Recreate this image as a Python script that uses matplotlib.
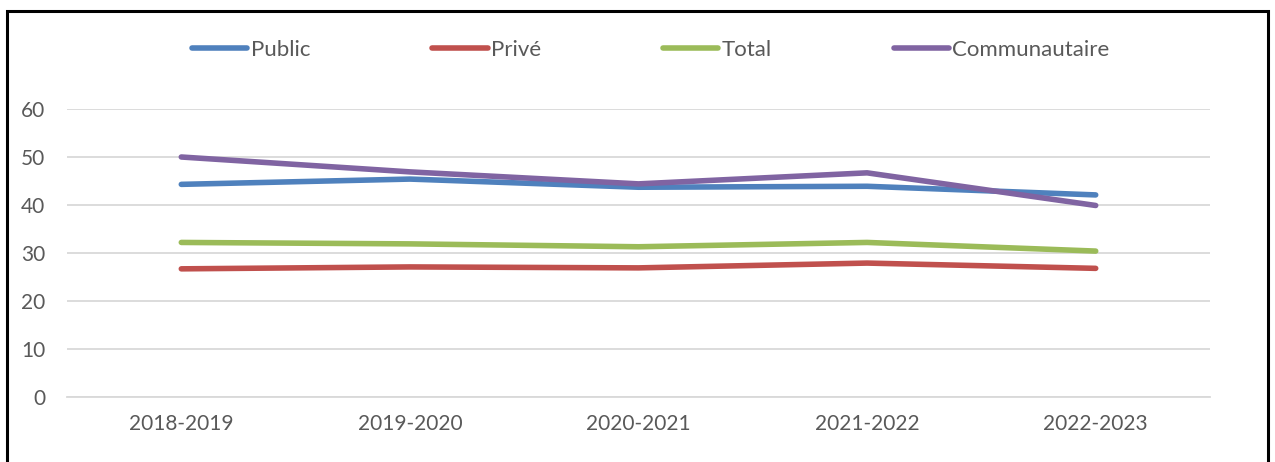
import matplotlib.pyplot as plt
from matplotlib.patches import Rectangle

# data
years = ["2018-2019", "2019-2020", "2020-2021", "2021-2022", "2022-2023"]
public = [44.3, 45.4, 43.7, 43.9, 42.1]
prive = [26.7, 27.1, 26.9, 27.9, 26.8]
total = [32.2, 31.9, 31.3, 32.2, 30.4]
communautaire = [50.0, 46.9, 44.4, 46.7, 39.9]

series = [
    ("Public", public, "#4F81BD"),
    ("Privé", prive, "#C0504D"),
    ("Total", total, "#9BBB59"),
    ("Communautaire", communautaire, "#8064A2"),
]

plt.rcParams['font.family'] = ['Lato', 'DejaVu Sans']
text_color = "#595959"

fig = plt.figure(figsize=(12.75, 4.62), dpi=100)
ax = fig.add_axes([67 / 1275, 65 / 462, (1210 - 67) / 1275, (397 - 109) / 462])

x = range(len(years))
for label, values, color in series:
    ax.plot(x, values, color=color, lw=4, solid_capstyle='round',
            solid_joinstyle='round', label=label)

ax.set_xlim(-0.5, len(years) - 0.5)
ax.set_ylim(0, 60)
ax.set_yticks(range(0, 61, 10))
ax.set_xticks(list(x))
ax.set_xticklabels(years)
ax.grid(axis='y', color='#D9D9D9', lw=1.3)
ax.set_axisbelow(True)
for side in ['top', 'right', 'left']:
    ax.spines[side].set_visible(False)
ax.spines['bottom'].set_color('#D9D9D9')
ax.spines['bottom'].set_linewidth(1.3)
ax.tick_params(axis='both', length=0, labelsize=15, labelcolor=text_color)
ax.tick_params(axis='y', pad=15.5)
ax.tick_params(axis='x', pad=12)

leg = ax.legend(loc='center', bbox_to_anchor=(651 / 1275, 1 - 50 / 462),
                bbox_transform=fig.transFigure, ncol=4, frameon=False,
                fontsize=16, handlelength=2.48, handletextpad=0.15,
                columnspacing=5.5)
for t in leg.get_texts():
    t.set_color(text_color)

# outer border like the source document
fig.patches.append(Rectangle((7 / 1275, -0.05), (1268 - 7) / 1275, 1.05 - 11 / 462,
                             transform=fig.transFigure, fill=False,
                             edgecolor='black', lw=2.2))

fig.savefig("out.png", dpi=100)
